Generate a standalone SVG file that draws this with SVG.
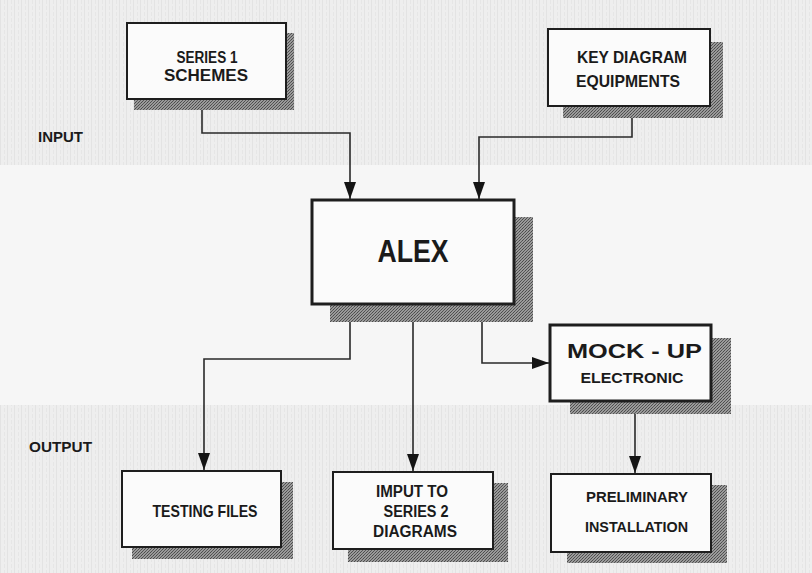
<svg xmlns="http://www.w3.org/2000/svg" width="812" height="573" viewBox="0 0 812 573">
<defs>
<pattern id="dither" width="3" height="3" patternUnits="userSpaceOnUse">
<rect width="3" height="3" fill="#9a9a9a"/>
<rect x="0" y="0" width="1" height="1" fill="#4a4a4a"/>
<rect x="2" y="1" width="1" height="1" fill="#5a5a5a"/>
<rect x="1" y="2" width="1" height="1" fill="#505050"/>
</pattern>
<pattern id="band" width="7" height="6" patternUnits="userSpaceOnUse">
<rect width="7" height="6" fill="#eeeeee"/>
<rect x="0" y="0" width="1" height="6" fill="#e3e3e3"/>
<rect x="4" y="0" width="1" height="4" fill="#e6e6e6"/>
</pattern>
<marker id="arr" viewBox="0 0 17 12" refX="17" refY="6" markerWidth="17" markerHeight="12" markerUnits="userSpaceOnUse" orient="auto">
<path d="M0,0 L17,6 L0,12 Z" fill="#141414"/>
</marker>
<style>
.lbl{font-family:"Liberation Sans",Arial,sans-serif;font-weight:bold;fill:#1a1a1a;text-anchor:middle}
.box{fill:#fbfbfb;stroke:#1e1e1e;stroke-width:2}
.thick{stroke-width:3}
.shadow{fill:url(#dither)}
.conn{fill:none;stroke:#2a2a2a;stroke-width:1.6}
</style>
</defs>
<rect width="812" height="573" fill="#f6f6f6"/>
<rect x="0" y="0" width="812" height="165" fill="url(#band)"/>
<rect x="0" y="405" width="812" height="168" fill="url(#band)"/>
<text class="lbl" x="60.5" y="142" font-size="14" textLength="45" lengthAdjust="spacingAndGlyphs">INPUT</text>
<text class="lbl" x="60.5" y="452" font-size="15" textLength="63" lengthAdjust="spacingAndGlyphs">OUTPUT</text>
<g id="connectors">
<path class="conn" d="M202,99 V133 H350 V199" marker-end="url(#arr)"/>
<path class="conn" d="M632,106 V137 H479 V199" marker-end="url(#arr)"/>
<path class="conn" d="M350,304 V359 H204 V470" marker-end="url(#arr)"/>
<path class="conn" d="M413,304 V471" marker-end="url(#arr)"/>
<path class="conn" d="M482,304 V363 H549" marker-end="url(#arr)"/>
<path class="conn" d="M635,401 V473" marker-end="url(#arr)"/>
</g>
<g id="series1">
<rect class="shadow" x="134" y="33" width="160" height="77"/>
<rect class="box" x="127" y="23" width="159" height="76"/>
<text class="lbl" x="207" y="63" font-size="16" textLength="61" lengthAdjust="spacingAndGlyphs">SERIES 1</text>
<text class="lbl" x="206" y="80.5" font-size="16" textLength="84" lengthAdjust="spacingAndGlyphs">SCHEMES</text>
</g>
<g id="keydiagram">
<rect class="shadow" x="563" y="42" width="160" height="76"/>
<rect class="box" x="548" y="29" width="162" height="77"/>
<text class="lbl" x="632" y="63" font-size="17" textLength="110" lengthAdjust="spacingAndGlyphs">KEY DIAGRAM</text>
<text class="lbl" x="628" y="87" font-size="17" textLength="104" lengthAdjust="spacingAndGlyphs">EQUIPMENTS</text>
</g>
<g id="alex">
<rect class="shadow" x="330" y="217" width="203" height="105"/>
<rect class="box thick" x="312" y="200" width="202" height="104"/>
<text class="lbl" x="413" y="262" font-size="32" textLength="71" lengthAdjust="spacingAndGlyphs">ALEX</text>
</g>
<g id="mockup">
<rect class="shadow" x="570" y="338" width="161" height="76"/>
<rect class="box thick" x="550" y="325" width="161" height="76"/>
<text class="lbl" x="634.5" y="358" font-size="21" textLength="135" lengthAdjust="spacingAndGlyphs">MOCK - UP</text>
<text class="lbl" x="632" y="383" font-size="14" textLength="103" lengthAdjust="spacingAndGlyphs">ELECTRONIC</text>
</g>
<g id="testing">
<rect class="shadow" x="132" y="482" width="161" height="77"/>
<rect class="box" x="122" y="471" width="159" height="76"/>
<text class="lbl" x="205" y="517" font-size="17" textLength="105" lengthAdjust="spacingAndGlyphs">TESTING FILES</text>
</g>
<g id="imput">
<rect class="shadow" x="348" y="483" width="160" height="79"/>
<rect class="box" x="333" y="472" width="160" height="77"/>
<text class="lbl" x="412" y="497" font-size="16" textLength="72" lengthAdjust="spacingAndGlyphs">IMPUT TO</text>
<text class="lbl" x="416" y="517" font-size="16" textLength="65" lengthAdjust="spacingAndGlyphs">SERIES 2</text>
<text class="lbl" x="415" y="537" font-size="16" textLength="84" lengthAdjust="spacingAndGlyphs">DIAGRAMS</text>
</g>
<g id="preliminary">
<rect class="shadow" x="567" y="485" width="160" height="78"/>
<rect class="box" x="551" y="474" width="160" height="78"/>
<text class="lbl" x="637" y="502" font-size="15.5" textLength="102" lengthAdjust="spacingAndGlyphs">PRELIMINARY</text>
<text class="lbl" x="636.5" y="532" font-size="15.5" textLength="103" lengthAdjust="spacingAndGlyphs">INSTALLATION</text>
</g>
</svg>
